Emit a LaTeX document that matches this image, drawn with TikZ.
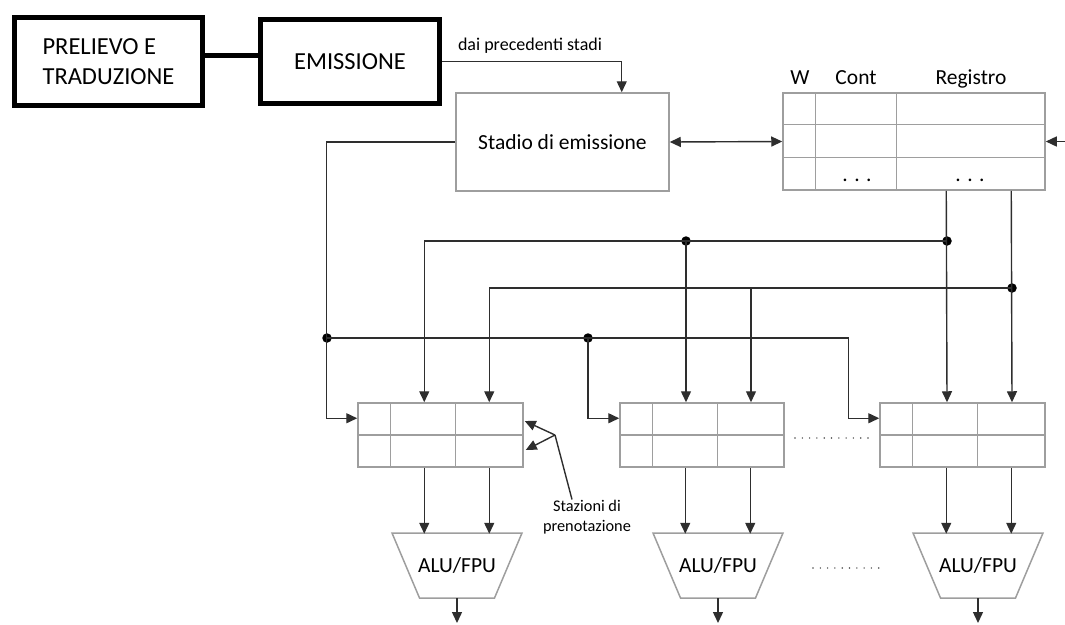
\documentclass[tikz,border=0pt]{standalone}
\usepackage{fontspec}
\setmainfont{Carlito}
\usepackage{xcolor}
\usetikzlibrary{arrows.meta,positioning,calc}

\definecolor{boxgray}{gray}{0.62}
\definecolor{wirecol}{gray}{0.18}

\tikzset{
  thickbox/.style={draw=black, line width=5pt, inner sep=0pt},
  greybox/.style={draw=boxgray, line width=1.5pt, inner sep=0pt},
  wire/.style={draw=wirecol, line width=1.4pt},
  arr/.style={wire, -{Triangle[length=11pt,width=10pt]}},
  dot/.style={circle, fill=black, inner sep=0pt, minimum size=9.5pt},
  big/.style={font=\fontsize{24.5}{30}\selectfont},
  mid/.style={font=\fontsize{21.5}{26}\selectfont},
}

\begin{document}
\begin{tikzpicture}[x=1pt,y=-1pt]
			\useasboundingbox (0,0) rectangle (1065,624);
			\node[thickbox,big,minimum width=188pt,minimum height=88pt,align=left] (pt) at (108.5,61.5) {PRELIEVO E\\TRADUZIONE};
			\node[thickbox,big,minimum width=179pt,minimum height=84pt] (em) at (350,61.5) {EMISSIONE};
			\draw[line width=5pt] ([yshift=6.5pt]pt.east) -- ([yshift=6.5pt]em.west);
			\node[font=\fontsize{18}{22}\selectfont] (dps) at (530,46) {dai precedenti stadi};
			\node[greybox,mid,minimum width=213pt,minimum height=98pt] (stadio) at (562.5,142) {Stadio di emissione};
			\draw[arr] (em.east) -| ($(stadio.north east)+(-48,0)$);
			
			% register file
			\node[greybox,minimum width=262pt,minimum height=97pt] (regfile) at (914,141.5) {};
			\draw[draw=boxgray, line width=1.5pt] ($(regfile.north west)+(33,0)$) -- ($(regfile.south west)+(33,0)$);
			\draw[draw=boxgray, line width=1.5pt] ($(regfile.north west)+(114,0)$) -- ($(regfile.south west)+(114,0)$);
			\draw[draw=boxgray, line width=1.5pt] ($(regfile.north west)+(0,32)$) -- ($(regfile.north east)+(0,32)$);
			\draw[draw=boxgray, line width=1.5pt] ($(regfile.north west)+(0,65)$) -- ($(regfile.north east)+(0,65)$);
			\node[mid,anchor=base] (hw) at (800,84) {W};
			\node[mid,anchor=base] (hcont) at (856,84) {Cont};
			\node[mid,anchor=base] (hreg) at (971,84) {Registro};
			\node[mid,anchor=base] (rdots1) at (857,181) {. . .};
			\node[mid,anchor=base] (rdots2) at (970,181) {. . .};
			\draw[wire,{Triangle[length=11pt,width=10pt]}-{Triangle[length=11pt,width=10pt]}] (stadio.east) -- (regfile.west);
			\coordinate (rin) at (1066,141.5);
			\draw[arr] (rin) -- (regfile.east);
			
			% reservation stations
			\node[greybox,minimum width=165pt,minimum height=64pt] (rs1) at (440.5,435) {};
			\node[greybox,minimum width=164pt,minimum height=64pt] (rs2) at (702,435) {};
			\node[greybox,minimum width=165pt,minimum height=64pt] (rs3) at (962.5,435) {};
			\draw[draw=boxgray, line width=1.5pt] (rs1.west) -- (rs1.east);
			\draw[draw=boxgray, line width=1.5pt] ($(rs1.north west)+(33,0)$) -- ($(rs1.south west)+(33,0)$);
			\draw[draw=boxgray, line width=1.5pt] ($(rs1.north west)+(98,0)$) -- ($(rs1.south west)+(98,0)$);
			\draw[draw=boxgray, line width=1.5pt] (rs2.west) -- (rs2.east);
			\draw[draw=boxgray, line width=1.5pt] ($(rs2.north west)+(33,0)$) -- ($(rs2.south west)+(33,0)$);
			\draw[draw=boxgray, line width=1.5pt] ($(rs2.north west)+(98,0)$) -- ($(rs2.south west)+(98,0)$);
			\draw[draw=boxgray, line width=1.5pt] (rs3.west) -- (rs3.east);
			\draw[draw=boxgray, line width=1.5pt] ($(rs3.north west)+(33,0)$) -- ($(rs3.south west)+(33,0)$);
			\draw[draw=boxgray, line width=1.5pt] ($(rs3.north west)+(98,0)$) -- ($(rs3.south west)+(98,0)$);
			
			% ALU/FPU units
			\node[mid] (alu1) at (457,565.5) {ALU/FPU};
			\node[mid] (alu2) at (718,565.5) {ALU/FPU};
			\node[mid] (alu3) at (978,565.5) {ALU/FPU};
			\draw[draw=boxgray, line width=1.5pt] ($(alu1)+(-65,-32.5)$) -- ($(alu1)+(65,-32.5)$) -- ($(alu1)+(37.5,32.5)$) -- ($(alu1)+(-37.5,32.5)$) -- cycle;
			\draw[draw=boxgray, line width=1.5pt] ($(alu2)+(-65,-32.5)$) -- ($(alu2)+(65,-32.5)$) -- ($(alu2)+(37.5,32.5)$) -- ($(alu2)+(-37.5,32.5)$) -- cycle;
			\draw[draw=boxgray, line width=1.5pt] ($(alu3)+(-65,-32.5)$) -- ($(alu3)+(65,-32.5)$) -- ($(alu3)+(37.5,32.5)$) -- ($(alu3)+(-37.5,32.5)$) -- cycle;
			
			% buses
			\node[dot] (d1) at (947,241) {};
			\node[dot] (d2) at (686,241) {};
			\node[dot] (d3) at (1012,288) {};
			\node[dot] (d4) at (327,338) {};
			\node[dot] (d5) at (588,338) {};
			\coordinate (j2) at (751,288);
			\draw[arr] ($(regfile.south west)+(164,0)$) -- (rs3.north -| d1);
			\draw[arr] ($(regfile.south west)+(229,0)$) -- (rs3.north -| d3);
			\draw[arr] (d1.center) -| ($(rs1.north west)+(67,0)$);
			\draw[arr] (d2.center) -- (rs2.north -| d2);
			\draw[arr] (d3.center) -| ($(rs1.north west)+(132,0)$);
			\draw[arr] (j2) -- (rs2.north -| j2);
			\draw[arr] (stadio.west) -| ($(rs1.north west)+(-31,16)$) -- ($(rs1.north west)+(0,16)$);
			\draw[arr] (d4.center) -| ($(rs3.north west)+(-31,16)$) -- ($(rs3.north west)+(0,16)$);
			\draw[arr] (d5.center) |- ($(rs2.north west)+(0,16)$);
			
			% stations -> units
			\draw[arr] (rs1.south west) ++(67,0) -- ++(0,66);
			\draw[arr] (rs1.south west) ++(132,0) -- ++(0,66);
			\draw[arr] (rs2.south west) ++(66,0) -- ++(0,66);
			\draw[arr] (rs2.south west) ++(131,0) -- ++(0,66);
			\draw[arr] (rs3.south west) ++(67,0) -- ++(0,66);
			\draw[arr] (rs3.south west) ++(132,0) -- ++(0,66);
			\draw[arr] ($(alu1)+(0,32.5)$) -- ($(alu1)+(0,57.5)$);
			\draw[arr] ($(alu2)+(0,32.5)$) -- ($(alu2)+(0,57.5)$);
			\draw[arr] ($(alu3)+(0,32.5)$) -- ($(alu3)+(0,57.5)$);
			
			% label
			\node[font=\fontsize{16.3}{20}\selectfont,align=center] (sp) at (587,517) {Stazioni di\\prenotazione};
			\coordinate (spj) at (555,435);
			\draw[wire] ($(sp.north)+(-15,3)$) -- (spj);
			\draw[arr] (spj) -- ($(rs1.east)+(1,-14)$);
			\draw[arr] (spj) -- ($(rs1.east)+(2,15)$);
			
			% dots
			\coordinate (dl1) at (795,438);
			\coordinate (dl2) at (868,438);
			\coordinate (dl3) at (813,568);
			\coordinate (dl4) at (885,568);
			\draw[black!70, line width=1.6pt, line cap=round, dash pattern=on 0pt off 7.3pt] (dl1) -- (dl2);
			\draw[black!70, line width=1.6pt, line cap=round, dash pattern=on 0pt off 7.3pt] (dl3) -- (dl4);
\end{tikzpicture}
\end{document}
